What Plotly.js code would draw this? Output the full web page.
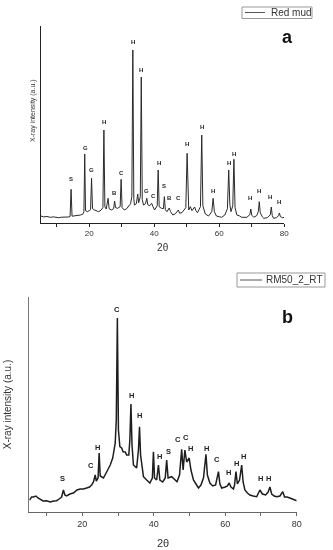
<!DOCTYPE html>
<html>
<head>
<meta charset="utf-8">
<script src="https://cdn.plot.ly/plotly-3.0.1.min.js"></script>
<style>html,body{margin:0;padding:0;background:#fff;}#chart{width:333px;height:550px;filter:grayscale(100%);}</style>
</head>
<body>
<div id="chart"></div>
<script>
// ---------- Panel a : Red mud ----------
const twoThetaA = [5.1,6.0,7.0,8.0,9.0,10.0,10.6,11.5,12.7,13.5,14.1,14.4,14.7,15.8,16.5,17.3,18.0,18.35,18.6,18.85,19.5,20.4,20.7,21.0,21.6,22.3,22.9,23.6,24.2,24.5,24.8,25.2,25.8,26.1,26.8,27.5,27.8,28.1,28.7,29.5,29.8,30.1,30.8,31.5,32.1,32.7,33.1,33.4,33.7,33.9,34.5,34.9,35.2,35.7,36.0,36.3,36.7,37.3,37.7,38.0,38.6,39.2,39.6,40.1,40.9,41.2,41.5,42.2,42.8,43.1,43.4,43.9,44.6,45.0,45.7,46.5,47.4,47.8,48.5,49.7,50.1,50.45,50.6,51.1,51.6,52.4,52.8,53.3,54.2,54.6,54.95,55.7,56.7,57.7,58.1,58.5,59.1,60.0,60.7,61.7,62.5,62.9,63.25,63.6,64.15,64.5,64.85,65.4,66.1,66.9,68.5,69.4,69.7,70.0,70.6,71.5,72.0,72.3,72.6,73.2,73.7,74.8,75.7,76.0,76.3,76.7,77.6,78.2,78.5,78.8,79.5,80.0];
const intensityA = [67,58,62,54,58,50,50,55,53,57,62,334,65,67,72,77,85,110,687,120,110,130,444,140,127,118,110,125,150,927,160,137,244,140,127,140,217,150,144,160,434,150,127,140,160,190,260,1727,240,177,190,287,200,260,1457,230,177,190,244,180,170,194,160,127,170,527,160,144,140,260,130,110,147,110,77,90,127,95,100,150,694,150,127,160,120,157,120,100,160,877,170,87,67,110,244,110,67,60,54,77,140,527,180,110,170,634,150,77,70,54,54,80,137,75,54,70,110,210,100,60,44,50,80,157,70,44,50,70,97,60,50,54];
const phaseA    = ["S","G","G","H","B","C","H","H","G","C","H","S","B","C","H","H","H","H","H","H","H","H","H"];
const phasePosA = [14.4,18.7,20.8,24.5,27.9,29.8,33.4,36.0,37.7,39.8,41.4,43.1,44.7,47.6,50.1,54.6,58.1,62.9,64.5,69.5,72.2,75.7,78.5];
const phaseTopA = [434,744,527,1004,300,500,1810,1527,317,267,594,367,244,244,787,960,317,594,684,250,317,254,210];

// ---------- Panel b : RM50_2_RT ----------
const twoThetaB = [5.2,5.8,6.3,7.0,7.6,8.2,9.0,10.0,11.0,12.0,12.8,13.5,14.2,14.7,15.1,15.6,16.5,17.5,18.5,19.4,20.3,21.2,22.0,22.6,23.1,23.6,23.9,24.4,24.7,25.0,25.9,26.8,27.8,28.5,29.2,29.5,29.8,30.1,30.5,31.0,31.4,32.0,32.4,33.0,33.3,33.6,33.9,34.3,35.2,35.7,36.0,36.3,37.1,38.0,38.9,39.6,39.9,40.2,40.8,41.3,41.7,42.5,43.2,43.6,44.0,45.0,46.0,46.5,47.2,47.8,48.2,48.7,49.2,49.9,50.4,51.1,51.8,52.5,53.2,53.9,54.6,55.0,55.7,56.5,57.3,58.1,58.5,59.0,60.0,60.6,61.1,61.6,62.3,62.6,63.0,63.4,64.0,64.6,65.0,65.5,66.2,66.9,67.8,68.8,69.7,70.4,71.3,72.0,72.5,73.0,73.7,74.4,75.3,76.1,76.6,77.3,78.1,79.0,80.0];
const intensityB = [120,150,150,160,140,130,110,113,100,110,113,130,150,220,170,160,180,190,220,230,230,240,250,270,300,370,310,340,590,360,340,400,470,540,690,920,1940,820,653,640,603,600,570,570,720,1080,670,470,440,620,853,570,353,320,290,340,603,340,320,470,320,300,340,520,340,353,320,303,370,627,420,620,500,540,420,320,280,240,270,340,577,370,290,260,270,403,280,240,250,260,290,250,230,270,403,280,320,470,300,220,190,170,160,153,220,180,170,200,250,180,160,153,160,203,150,150,140,130,113];
const phaseB    = ["S","C","H","C","H","H","H","S","C","C","H","H","C","H","H","H","H","H"];
const phasePosB = [14.5,22.4,24.3,29.6,33.8,36.1,41.6,44.1,46.7,49.0,50.3,54.8,57.6,60.9,63.2,65.1,69.9,72.2];
const phaseTopB = [337,470,647,2030,1170,970,553,603,727,743,637,637,527,393,487,553,337,337];

const xTickVals = [10,20,30,40,50,60,70,80];
const xTickText = ["","20","","40","","60","","80"];
const seriesNames = ["Red mud","RM50_2_RT"];
const panelLetters = ["a","b"];
const yTitle = "X-ray intensity (a.u.)";
const xTitle = "2θ";

// ---------- layout helpers (pixel -> paper) ----------
const W = 333, H = 550;
const px = v => v / W;
const py = v => 1 - v / H;
const FONT = "Liberation Sans, Arial, sans-serif";

const traces = [
  {x: twoThetaA, y: intensityA, xaxis: "x", yaxis: "y", type: "scatter", mode: "lines",
   name: seriesNames[0], line: {color: "#2a2a2a", width: 1}, hoverinfo: "x+y"},
  {x: twoThetaB, y: intensityB, xaxis: "x2", yaxis: "y2", type: "scatter", mode: "lines",
   name: seriesNames[1], line: {color: "#1e1e1e", width: 1.5}, hoverinfo: "x+y"}
];

const annotations = [];
phaseA.forEach((t, i) => annotations.push({
  x: phasePosA[i], y: phaseTopA[i], xref: "x", yref: "y", text: t, showarrow: false,
  xanchor: "center", yanchor: "middle", font: {family: FONT, size: 6, color: "#222", weight: "bold"}
}));
phaseB.forEach((t, i) => annotations.push({
  x: phasePosB[i], y: phaseTopB[i], xref: "x2", yref: "y2", text: t, showarrow: false,
  xanchor: "center", yanchor: "middle", font: {family: FONT, size: 7.5, color: "#222", weight: "bold"}
}));
// y title of panel a (sits above the centre of its axis in the reference)
annotations.push({x: px(33), y: py(111), xref: "paper", yref: "paper", text: yTitle, showarrow: false,
  textangle: -90, xanchor: "center", yanchor: "middle",
  font: {family: FONT, size: 7, color: "#333"}});
// panel letters
annotations.push({x: px(287), y: py(37), xref: "paper", yref: "paper", text: panelLetters[0], showarrow: false,
  xanchor: "center", yanchor: "middle", font: {family: FONT, size: 18, color: "#111", weight: "bold"}});
annotations.push({x: px(287), y: py(317), xref: "paper", yref: "paper", text: panelLetters[1], showarrow: false,
  xanchor: "center", yanchor: "middle", font: {family: FONT, size: 18, color: "#111", weight: "bold"}});
// legend texts
annotations.push({x: px(269), y: py(12.5), xref: "paper", yref: "paper", text: seriesNames[0], showarrow: false,
  xanchor: "left", yanchor: "middle", font: {family: FONT, size: 10, color: "#333"}});
annotations.push({x: px(264), y: py(280), xref: "paper", yref: "paper", text: seriesNames[1], showarrow: false,
  xanchor: "left", yanchor: "middle", font: {family: FONT, size: 10, color: "#333"}});

const shapes = [
  {type: "rect", xref: "paper", yref: "paper", x0: px(242), x1: px(312), y0: py(7), y1: py(18.5),
   line: {color: "#999", width: 1}, fillcolor: "rgba(0,0,0,0)"},
  {type: "line", xref: "paper", yref: "paper", x0: px(245), x1: px(265), y0: py(12.5), y1: py(12.5),
   line: {color: "#555", width: 1}},
  {type: "rect", xref: "paper", yref: "paper", x0: px(237), x1: px(325), y0: py(273), y1: py(287),
   line: {color: "#999", width: 1}, fillcolor: "rgba(0,0,0,0)"},
  {type: "line", xref: "paper", yref: "paper", x0: px(240), x1: px(262), y0: py(280), y1: py(280),
   line: {color: "#555", width: 1}}
];

const xBase = (dom, anchor, fs, tfs, lc, stand) => ({
  domain: dom, anchor: anchor, range: [5.15, 80], showline: true, linecolor: lc, linewidth: 1,
  mirror: false, showgrid: false, zeroline: false, ticks: "outside", ticklen: 3, tickwidth: 1,
  tickcolor: lc, tickvals: xTickVals, ticktext: xTickText,
  tickfont: {family: FONT, size: fs, color: "#333"},
  title: {text: xTitle, font: {family: FONT, size: tfs, color: "#333"}, standoff: stand},
  automargin: false
});
const yBase = (dom, anchor, rng, title, tfs, lc, stand) => ({
  domain: dom, anchor: anchor, range: rng, showline: true, linecolor: lc, linewidth: 1,
  mirror: false, showgrid: false, zeroline: false, ticks: "", showticklabels: false,
  title: {text: title, font: {family: FONT, size: tfs, color: "#333"}, standoff: stand},
  automargin: false
});

const layout = {
  width: W, height: H,
  margin: {l: 0, r: 0, t: 0, b: 0},
  paper_bgcolor: "#fff", plot_bgcolor: "#fff",
  showlegend: false,
  xaxis:  xBase([px(41), px(284.3)], "y", 8, 10, "#222", 6),
  yaxis:  yBase([py(222.7), py(26)], "x", [0, 1967], "", 7, "#222", 2),
  xaxis2: xBase([px(29.3), px(296.7)], "y2", 9, 11, "#666", 11),
  yaxis2: yBase([py(512), py(297)], "x2", [0, 2150], yTitle, 10, "#777", 14),
  annotations: annotations,
  shapes: shapes
};

Plotly.newPlot("chart", traces, layout, {staticPlot: true, displayModeBar: false});
</script>
</body>
</html>
